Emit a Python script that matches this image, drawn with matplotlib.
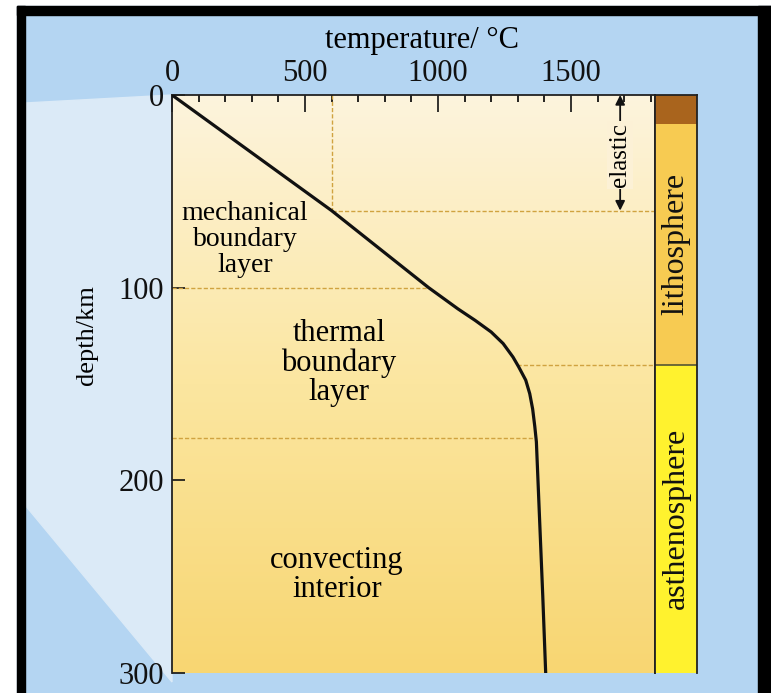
import numpy as np
import matplotlib.pyplot as plt
from matplotlib.colors import LinearSegmentedColormap
from matplotlib.ticker import MultipleLocator
from matplotlib.patches import Rectangle, Polygon

plt.rcParams['font.family'] = ['Liberation Serif', 'DejaVu Serif']

# geotherm
depth_km = [0, 60, 100, 111, 117, 123, 129, 136, 141, 148, 155, 163, 172, 180, 220, 260, 300]
temp_c = [0, 600, 965, 1075, 1140, 1200, 1245, 1282, 1303, 1330, 1345, 1356, 1364, 1370, 1382, 1394, 1405]

# layer boundaries (depth, km)
mbl_base = 60
mbl_temp = 600
tbl_top = 100
lith_base = 140
tbl_base = 178
elastic_base = 60
elastic_temp = 1685

# column on the right
layer_top = [0, 15, 140]
layer_bot = [15, 140, 300]
layer_col = ['#a9641d', '#f7cb52', '#fff22e']
layer_name = ['', 'lithosphere', 'asthenosphere']

xmax = 1816
dash_col = '#d0a340'

fig = plt.figure(figsize=(7.71, 6.93), dpi=100)

# page background
bg = fig.add_axes([0, 0, 1, 1])
bg.set_xlim(0, 771)
bg.set_ylim(693, 0)
bg.axis('off')
bg.add_patch(Rectangle((0, 0), 771, 693, color='white'))
bg.add_patch(Rectangle((17, 6), 754, 687, color='#b4d5f2'))
bg.add_patch(Polygon([(25, 103), (172, 95), (172, 682), (25, 505)], color='#dbeaf7'))
bg.add_patch(Rectangle((17, 6), 754, 9, color='black'))
bg.add_patch(Rectangle((17, 6), 8, 687, color='black'))
bg.add_patch(Rectangle((758, 6), 13, 687, color='black'))

ax = fig.add_axes([172/771, 1-673/693, (655-172)/771, (673-95)/693])
ax.set_xlim(0, xmax)
ax.set_ylim(300, 0)

cmap = LinearSegmentedColormap.from_list('paper', ['#fdf4dd', '#fbe6a0', '#f8d672'])
ax.imshow(np.linspace(0, 1, 256).reshape(-1, 1), cmap=cmap, aspect='auto',
          extent=(0, xmax, 300, 0), zorder=0)

ax.plot(temp_c, depth_km, color='#111111', lw=2.3, zorder=3)

# dashed guide lines
t100 = np.interp(tbl_top, depth_km, temp_c)
t140 = np.interp(lith_base, depth_km, temp_c)
t178 = np.interp(tbl_base, depth_km, temp_c)
ax.plot([mbl_temp, mbl_temp], [0, mbl_base], color=dash_col, lw=1, ls=(0, (3, 1.5)), zorder=2)
ax.plot([mbl_temp, xmax], [mbl_base, mbl_base], color=dash_col, lw=1, ls=(0, (3, 1.5)), zorder=2)
ax.plot([0, t100], [tbl_top, tbl_top], color=dash_col, lw=1, ls=(0, (3, 1.5)), zorder=2)
ax.plot([t140, xmax], [lith_base, lith_base], color=dash_col, lw=1, ls=(0, (3, 1.5)), zorder=2)
ax.plot([0, t178], [tbl_base, tbl_base], color=dash_col, lw=1, ls=(0, (3, 1.5)), zorder=2)

# elastic arrow, broken by its label
ax.annotate('', xy=(elastic_temp, elastic_base), xytext=(elastic_temp, 0),
            arrowprops=dict(arrowstyle='<|-|>', color='#111111', lw=1.3,
                            mutation_scale=14, shrinkA=0, shrinkB=0), zorder=4)
ax.text(elastic_temp, elastic_base / 2 + 1, 'elastic', rotation=90, fontsize=18,
        ha='center', va='center', zorder=5,
        bbox=dict(boxstyle='square,pad=0.08', fc='#fcf1d6', ec='none'))

ax.text(274, 75, 'mechanical\nboundary\nlayer', fontsize=20, ha='center', va='center',
        linespacing=1.05, zorder=4)
ax.text(628, 139, 'thermal\nboundary\nlayer', fontsize=22, ha='center', va='center',
        linespacing=1.02, zorder=4)
ax.text(620, 249, 'convecting\ninterior', fontsize=22, ha='center', va='center',
        linespacing=1.0, zorder=4)

ax.xaxis.tick_top()
ax.xaxis.set_label_position('top')
ax.set_xticks([0, 500, 1000, 1500])
ax.xaxis.set_minor_locator(MultipleLocator(100))
ax.set_yticks([0, 100, 200, 300])
ax.tick_params(axis='x', which='major', direction='in', length=12, width=1.2,
               labelsize=22, pad=5, colors='#111111')
ax.tick_params(axis='x', which='minor', direction='in', length=5, width=1.2,
               top=True, bottom=False)
ax.tick_params(axis='y', direction='in', length=9, width=1.2, labelsize=22, pad=6,
               colors='#111111')
ax.set_xlabel('temperature/ °C', fontsize=22, va='center')
ax.xaxis.set_label_coords(0.518, 1.095)
ax.set_ylabel('depth/km', fontsize=19, va='center')
ax.yaxis.set_label_coords(-0.176, 0.585)
ax.spines['bottom'].set_visible(False)
for s in ['top', 'left', 'right']:
    ax.spines[s].set_linewidth(1.3)
    ax.spines[s].set_color('#222222')

# layer column
bar = fig.add_axes([655/771, 1-673/693, 42/771, (673-95)/693])
bar.set_xlim(0, 1)
bar.set_ylim(300, 0)
for top, bot, col, name in zip(layer_top, layer_bot, layer_col, layer_name):
    bar.bar(0.5, bot - top, bottom=top, width=1, color=col, zorder=1)
    if name:
        bar.text(0.5, (top + bot) / 2, name, rotation=90, fontsize=23,
                 ha='center', va='center', color='#111111', zorder=3)
bar.axhline(layer_top[2], color='#555533', lw=1.2, zorder=2)
bar.set_xticks([])
bar.set_yticks([])
bar.spines['bottom'].set_visible(False)
for s in ['top', 'left', 'right']:
    bar.spines[s].set_linewidth(1.3)
    bar.spines[s].set_color('#222222')

fig.savefig('out.png', dpi=100)
